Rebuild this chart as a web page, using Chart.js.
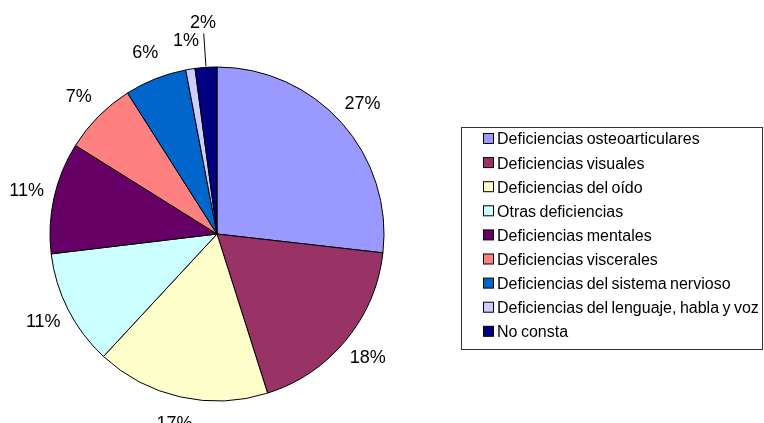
<!DOCTYPE html>
<html>
<head>
<meta charset="utf-8">
<script src="https://cdn.jsdelivr.net/npm/chart.js@4.4.1/dist/chart.umd.min.js"></script>
<style>
  html, body { margin: 0; padding: 0; background: #fff; }
  canvas { display: block; }
</style>
</head>
<body>
<canvas id="pieChart" width="764" height="423"></canvas>
<script>
// Categories and shares (percent)
const categories = [
    'Deficiencias osteoarticulares',
    'Deficiencias visuales',
    'Deficiencias del oído',
    'Otras deficiencias',
    'Deficiencias mentales',
    'Deficiencias viscerales',
    'Deficiencias del sistema nervioso',
    'Deficiencias del lenguaje, habla y voz',
    'No consta'
];
const values = [26.8, 18.3, 16.8, 11.2, 10.8, 7.1, 6.0, 0.9, 2.1];
const percentLabels = ['27%', '18%', '17%', '11%', '11%', '7%', '6%', '1%', '2%'];
const sliceColors = ['#9999FF', '#993366', '#FFFFCC', '#CCFFFF', '#660066', '#FF8080', '#0066CC', '#CCCCFF', '#000080'];

// Percent labels outside the pie
const outsideLabels = {
    id: 'outsideLabels',
    afterDatasetsDraw(chart, args, opts) {
        const ctx = chart.ctx;
        const meta = chart.getDatasetMeta(0);
        ctx.save();
        ctx.font = '18px "Liberation Sans", Arial, sans-serif';
        ctx.fillStyle = '#000';
        ctx.textAlign = 'center';
        ctx.textBaseline = 'middle';
        meta.data.forEach((arc, i) => {
            const p = arc.getProps(['x', 'y', 'startAngle', 'endAngle', 'outerRadius'], true);
            const mid = (p.startAngle + p.endAngle) / 2;
            const cos = Math.cos(mid), sin = Math.sin(mid);
            let d = p.outerRadius + opts.gap;
            if (opts.leaders.includes(i)) {
                d += opts.leaderExtra;
                ctx.strokeStyle = '#000';
                ctx.lineWidth = 1;
                ctx.beginPath();
                ctx.moveTo(p.x + cos * (p.outerRadius + 1), p.y + sin * (p.outerRadius + 1));
                ctx.lineTo(p.x + cos * (d - 10), p.y + sin * (d - 10));
                ctx.stroke();
            }
            ctx.fillText(percentLabels[i], p.x + cos * d, p.y + sin * d);
        });
        ctx.restore();
    }
};

// Boxed legend on the right
const boxLegend = {
    id: 'boxLegend',
    afterDraw(chart, args, opts) {
        const ctx = chart.ctx;
        const labels = chart.data.labels;
        const colors = chart.data.datasets[0].backgroundColor;
        ctx.save();
        ctx.strokeStyle = '#333';
        ctx.lineWidth = 1;
        ctx.strokeRect(opts.left + 0.5, opts.top + 0.5, opts.width, opts.height);
        ctx.font = '16px "Liberation Sans", Arial, sans-serif';
        ctx.wordSpacing = '-1px';
        ctx.textBaseline = 'middle';
        ctx.textAlign = 'left';
        labels.forEach((lab, i) => {
            const cy = opts.top + opts.firstRow + i * opts.rowGap;
            ctx.fillStyle = colors[i];
            ctx.fillRect(opts.left + 22.5, cy - 5.5, 10, 10);
            ctx.strokeStyle = '#000';
            ctx.strokeRect(opts.left + 22.5, cy - 5.5, 10, 10);
            ctx.fillStyle = '#000';
            ctx.fillText(lab, opts.left + 36, cy + 1);
        });
        ctx.restore();
    }
};

let pieChart;
function initializeChart() {
    const ctx = document.getElementById('pieChart').getContext('2d');
    pieChart = new Chart(ctx, {
        type: 'pie',
        data: {
            labels: categories,
            datasets: [{
                data: values,
                backgroundColor: sliceColors,
                borderColor: '#000',
                borderWidth: 1
            }]
        },
        options: {
            responsive: false,
            animation: false,
            radius: 167,
            layout: { padding: { left: 30, right: 360, top: 50, bottom: 5 } },
            plugins: {
                legend: { display: false },
                tooltip: { enabled: false },
                outsideLabels: { gap: 28, leaders: [8], leaderExtra: 16 },
                boxLegend: { left: 461, top: 127, width: 301, height: 222, firstRow: 12, rowGap: 24.1 }
            }
        },
        plugins: [outsideLabels, boxLegend]
    });
}

initializeChart();
</script>
</body>
</html>
